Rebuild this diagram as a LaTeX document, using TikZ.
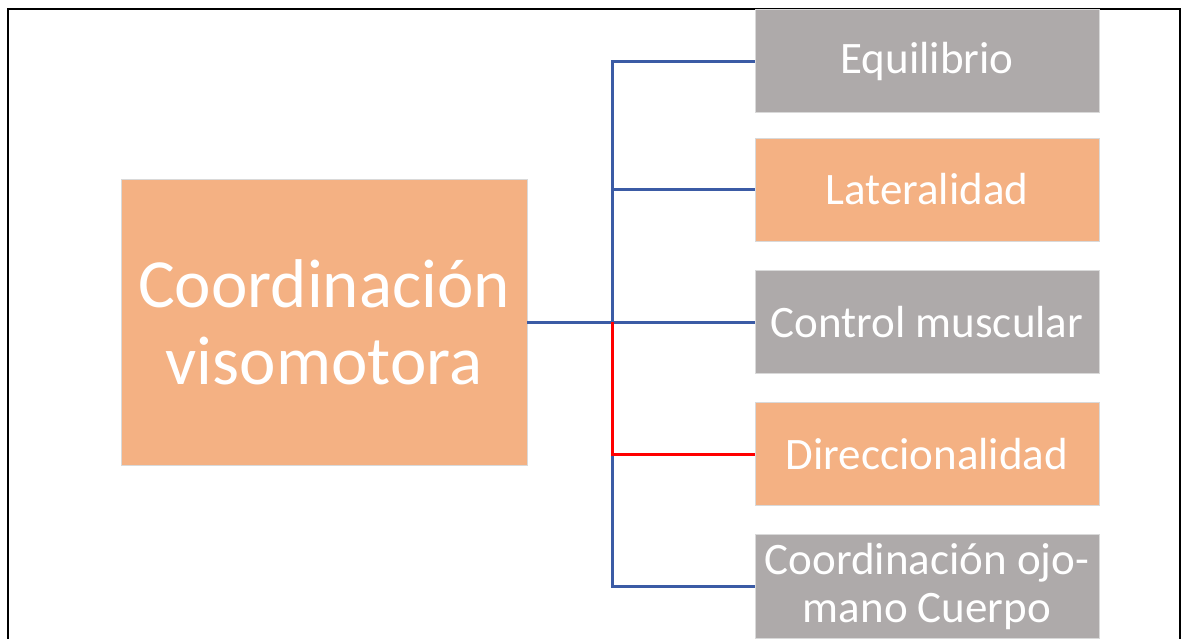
\documentclass[tikz,border=0pt]{standalone}
\usepackage{fontspec}
\setmainfont{Carlito}
\definecolor{boxorange}{RGB}{244,177,131}
\definecolor{boxgray}{RGB}{174,170,170}
\definecolor{linkblue}{RGB}{59,91,165}
\definecolor{linkred}{RGB}{255,0,0}
\begin{document}
\begin{tikzpicture}[x=1pt,y=-1pt,
  box/.style={draw=white!85!black, line width=0.6pt, text=white, align=center, inner sep=0pt},
  subbox/.style={box, minimum width=344pt, minimum height=103pt, font=\fontsize{45}{48}\selectfont},
  link/.style={line width=3pt, draw=linkblue},
  redlink/.style={line width=3pt, draw=linkred}]
\useasboundingbox (0,0) rectangle (1183,638);
\draw[line width=2pt] (8,700) -- (8,9) -- (1180,9) -- (1180,700);
\node[box, fill=boxorange, minimum width=406pt, minimum height=286pt,
      font=\fontsize{69}{77}\selectfont] (main) at (324,322) {Coordinación\\visomotora};
\node[subbox, fill=boxgray]   (e) at (927,61)  {Equilibrio};
\node[subbox, fill=boxorange] (l) at (927,189.5) {Lateralidad};
\node[subbox, fill=boxgray]   (c) at (927,322) {Control muscular};
\node[subbox, fill=boxorange] (d) at (927,454) {Direccionalidad};
\node[subbox, fill=boxgray, minimum height=104pt] (o) at (927,586) {Coordinación ojo-\\mano Cuerpo};
\coordinate (t) at (612,322);
\draw[link] (main.east) -- (t);
\draw[link] (t) -- (t |- e.west) -- (e.west);
\draw[link] (t) -- (t |- l.west) -- (l.west);
\draw[link] (t) -- (c.west);
\draw[link] (t) -- (t |- o.west) -- (o.west);
\draw[redlink] (t) -- (t |- d.west) -- (d.west);
\end{tikzpicture}
\end{document}
